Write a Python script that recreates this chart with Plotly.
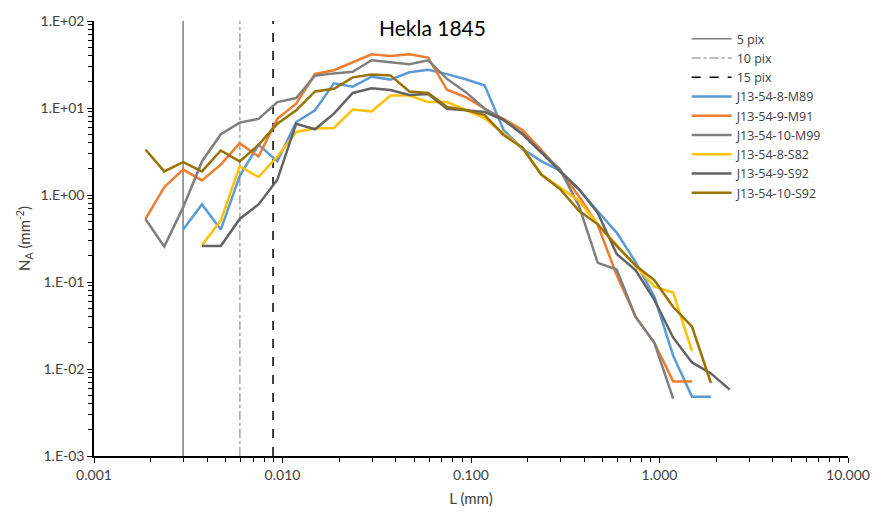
import plotly.graph_objects as go

# Particle size bins L (mm)
L = [0.001874, 0.002359, 0.002970, 0.003739, 0.004707, 0.005926, 0.007460, 0.009392,
     0.01182, 0.01488, 0.01874, 0.02359, 0.02970, 0.03739, 0.04707, 0.05926, 0.07460,
     0.09392, 0.1182, 0.1488, 0.1874, 0.2359, 0.2970, 0.3739, 0.4707, 0.5926, 0.7460,
     0.9392, 1.182, 1.488, 1.874, 2.359]

N = None
M89 = [N, N, 0.40, 0.78, 0.40, 1.65, 3.8, 2.45, 6.9, 9.4, 19.2, 17.6, 22.9, 21.2, 25.7, 27.5,
       24.5, 21.4, 18.1, 5.6, 3.4, 2.45, 1.9, 1.15, 0.65, 0.37, 0.17, 0.068, 0.0142, 0.0048,
       0.0048, N]
M91 = [0.53, 1.23, 1.96, 1.47, 2.23, 3.93, 2.77, 7.5, 11.2, 24.6, 27.2, 33.9, 41.4, 39.7, 41.4,
       38.0, 16.2, 13.3, 9.8, 7.5, 5.6, 3.3, 1.87, 0.97, 0.45, 0.12, 0.040, 0.020, 0.0072,
       0.0072, N, N]
M99 = [0.53, 0.256, 0.72, 2.43, 5.0, 6.8, 7.5, 11.7, 13.0, 23.5, 25.0, 26.1, 35.4, 33.4, 31.9,
       35.4, 21.6, 15.2, 9.8, 7.3, 5.1, 3.1, 1.97, 0.75, 0.166, 0.139, 0.040, 0.020, 0.00456,
       N, N, N]
S82 = [N, N, N, 0.265, 0.51, 2.14, 1.61, 2.77, 5.3, 5.8, 5.9, 9.6, 9.1, 13.9, 13.9, 11.7, 11.7,
       9.5, 7.6, 5.1, 3.5, 1.72, 1.21, 0.86, 0.46, 0.263, 0.155, 0.0885, 0.0755, 0.0161, N, N]
S92_9 = [N, N, N, 0.26, 0.26, 0.53, 0.78, 1.5, 6.6, 5.7, 8.6, 14.9, 16.9, 16.1, 14.1, 14.5, 9.8,
         9.4, 9.0, 7.3, 5.0, 3.1, 1.87, 1.17, 0.62, 0.21, 0.137, 0.0624, 0.0229, 0.0119,
         0.0089, 0.0058]
S92_10 = [3.33, 1.87, 2.39, 1.87, 3.25, 2.43, 3.77, 6.6, 9.4, 15.5, 16.6, 22.5, 24.2, 23.7, 15.5,
          14.9, 10.3, 9.5, 8.3, 4.9, 3.5, 1.72, 1.17, 0.66, 0.46, 0.26, 0.155, 0.105, 0.0516,
          0.0306, 0.0069, N]

series_names = ["J13-54-8-M89", "J13-54-9-M91", "J13-54-10-M99",
                "J13-54-8-S82", "J13-54-9-S92", "J13-54-10-S92"]
series_values = [M89, M91, M99, S82, S92_9, S92_10]
series_colors = ["#5B9BD5", "#ED7D31", "#7F7F7F", "#FFC000", "#636363", "#997300"]

# resolution limits (mm)
pix_names = ["5 pix", "10 pix", "15 pix"]
pix_L = [0.00297, 0.00594, 0.00891]
pix_styles = [("#7F7F7F", "solid", 1.5), ("#A6A6A6", "dashdot", 1.5), ("#000000", "dash", 1.5)]

y_range = [0.001, 100]
y_ticks = [0.001, 0.01, 0.1, 1, 10, 100]
y_ticktext = ["1.E-03", "1.E-02", "1.E-01", "1.E+00", "1.E+01", "1.E+02"]
x_ticks = [0.001, 0.01, 0.1, 1, 10]
x_ticktext = ["0.001", "0.010", "0.100", "1.000", "10.000"]

FONT = "Lato, 'Open Sans', sans-serif"

fig = go.Figure()
for name, xv, (col, dash, w) in zip(pix_names, pix_L, pix_styles):
    fig.add_trace(go.Scatter(x=[xv, xv], y=y_range, mode="lines", name=name,
                             line=dict(color=col, dash=dash, width=w)))
for name, vals, col in zip(series_names, series_values, series_colors):
    fig.add_trace(go.Scatter(x=L, y=vals, mode="lines", name=name,
                             line=dict(color=col, width=2.5), connectgaps=False))

minor_x = [m * 10 ** e for e in range(-3, 1) for m in range(2, 10)]
minor_y = [m * 10 ** e for e in range(-3, 2) for m in range(2, 10)]

fig.update_layout(
    width=882, height=517,
    margin=dict(l=94, r=28, t=18, b=59),
    paper_bgcolor="white", plot_bgcolor="white",
    font=dict(family=FONT, size=14, color="#404040"),
    showlegend=True,
    legend=dict(x=0.786, y=0.993, xanchor="left", yanchor="top",
                bgcolor="rgba(0,0,0,0)",
                font=dict(size=12.5, color="#404040", family="'Open Sans', sans-serif"),
                tracegroupgap=0, itemwidth=40),
    annotations=[dict(text="Hekla 1845", x=0.449, y=0.986, xref="paper", yref="paper",
                      xanchor="center", yanchor="middle", showarrow=False,
                      font=dict(size=21, color="#000000", family=FONT))],
)
fig.update_xaxes(type="log", range=[-3, 1], showline=True, linecolor="black", linewidth=1.5,
                 showgrid=False, zeroline=False, ticks="outside", ticklen=5, tickcolor="black",
                 tickvals=x_ticks, ticktext=x_ticktext, tickfont=dict(size=14),
                 minor=dict(tickvals=minor_x, ticks="outside", ticklen=4, tickcolor="black",
                            showgrid=False),
                 title=dict(text="L (mm)", font=dict(size=15, color="#404040"), standoff=12))
fig.update_yaxes(type="log", range=[-3, 2], showline=True, linecolor="black", linewidth=1.5,
                 showgrid=False, zeroline=False, ticks="outside", ticklen=5, tickcolor="black",
                 tickvals=y_ticks, ticktext=y_ticktext, tickfont=dict(size=14),
                 minor=dict(tickvals=minor_y, ticks="outside", ticklen=4, tickcolor="black",
                            showgrid=False),
                 title=dict(text="N<sub>A</sub> (mm<sup>-2</sup>)", font=dict(size=15, color="#404040"),
                            standoff=6))

fig.write_html("out.html")
